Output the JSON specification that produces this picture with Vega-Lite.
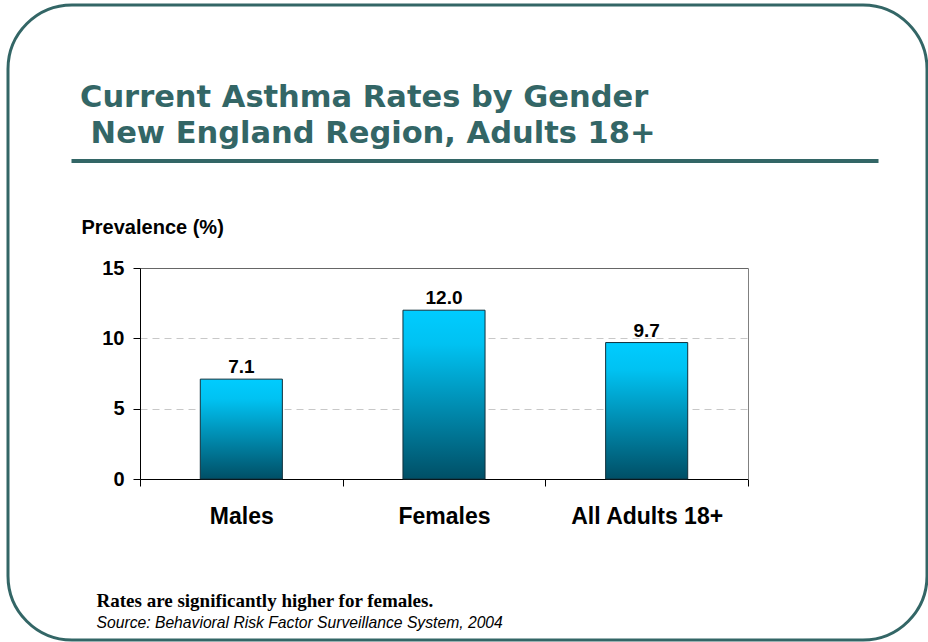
{
  "$schema": "https://vega.github.io/schema/vega-lite/v6.json",
  "width": 919,
  "height": 635,
  "autosize": {"type": "none"},
  "padding": {"left": 8, "top": 5, "right": 1, "bottom": 2},
  "background": "white",
  "title": {
    "text": ["Current Asthma Rates by Gender", "\u200b\u00a0New England Region, Adults 18+"],
    "anchor": "start",
    "frame": "group",
    "font": "DejaVu Sans",
    "fontSize": 30.5,
    "fontWeight": "bold",
    "color": "#336666",
    "lineHeight": 36,
    "offset": 0,
    "dx": 72,
    "dy": 144
  },
  "config": {
    "view": {"stroke": "#336666", "strokeWidth": 3, "cornerRadius": 64, "fill": "white"},
    "axis": {
      "labelFont": "Liberation Sans",
      "labelFontWeight": "bold",
      "labelColor": "#000000",
      "titleFont": "Liberation Sans",
      "titleFontWeight": "bold",
      "titleColor": "#000000",
      "domainColor": "#000000",
      "tickColor": "#000000"
    }
  },
  "data": {
    "values": [
      {"group": "Males", "prevalence": 7.1},
      {"group": "Females", "prevalence": 12.0},
      {"group": "All Adults 18+", "prevalence": 9.7}
    ]
  },
  "layer": [
    {
      "mark": {
        "type": "bar",
        "width": {"band": 0.405},
        "fill": {
          "gradient": "linear",
          "x1": 0, "y1": 0, "x2": 0, "y2": 1,
          "stops": [
            {"offset": 0, "color": "#00CCFF"},
            {"offset": 0.2, "color": "#00C2F2"},
            {"offset": 1, "color": "#004F66"}
          ]
        },
        "stroke": "#10303C",
        "strokeWidth": 1
      },
      "encoding": {
        "x": {
          "field": "group",
          "type": "nominal",
          "sort": null,
          "scale": {"range": [132, 740], "paddingInner": 0, "paddingOuter": 0},
          "axis": {
            "orient": "bottom",
            "offset": -161,
            "tickBand": "extent",
            "tickSize": 7,
            "labelAngle": 0,
            "labelFontSize": 23,
            "labelBaseline": "alphabetic",
            "labelPadding": 37,
            "grid": false,
            "title": "Rates are significantly higher for females.",
            "titleFont": "Liberation Serif",
            "titleFontSize": 19,
            "titleAngle": 0,
            "titleAlign": "left",
            "titleBaseline": "alphabetic",
            "titleX": 88,
            "titleY": 127
          }
        },
        "y": {
          "field": "prevalence",
          "type": "quantitative",
          "scale": {"domain": [0, 15], "range": [474, 263], "nice": false, "zero": true},
          "axis": {
            "orient": "left",
            "offset": -132,
            "values": [0, 5, 10, 15],
            "tickSize": 7,
            "labelFontSize": 20,
            "labelPadding": 9,
            "grid": true,
            "gridColor": "#C8C8C8",
            "gridDash": [7, 5],
            "title": "Prevalence (%)",
            "titleFontSize": 20,
            "titleAngle": 0,
            "titleAlign": "left",
            "titleBaseline": "alphabetic",
            "titleX": -59,
            "titleY": 228
          }
        }
      }
    },
    {
      "mark": {
        "type": "text",
        "font": "Liberation Sans",
        "fontWeight": "bold",
        "fontSize": 19,
        "baseline": "alphabetic",
        "dy": -6,
        "color": "#000000"
      },
      "encoding": {
        "x": {
          "field": "group",
          "type": "nominal",
          "sort": null,
          "scale": {"range": [132, 740], "paddingInner": 0, "paddingOuter": 0},
          "axis": {
            "orient": "top",
            "offset": -263,
            "domainColor": "#666666",
            "ticks": false,
            "labels": false,
            "grid": false,
            "title": null
          }
        },
        "y": {
          "field": "prevalence",
          "type": "quantitative",
          "axis": {
            "orient": "right",
            "offset": -179,
            "domainColor": "#808080",
            "ticks": false,
            "labels": false,
            "grid": false,
            "title": "Source: Behavioral Risk Factor Surveillance System, 2004",
            "titleFont": "Liberation Sans",
            "titleFontStyle": "italic",
            "titleFontWeight": "normal",
            "titleFontSize": 15.7,
            "titleAngle": 0,
            "titleAlign": "left",
            "titleBaseline": "alphabetic",
            "titleX": -652,
            "titleY": 622
          }
        },
        "text": {"field": "prevalence", "type": "quantitative", "format": ".1f"}
      }
    },
    {
      "mark": {"type": "point", "opacity": 0},
      "encoding": {
        "x": {
          "field": "group",
          "type": "nominal",
          "sort": null,
          "scale": {"type": "point", "range": [63, 870]},
          "axis": {
            "orient": "top",
            "offset": -155.5,
            "domainColor": "#336666",
            "domainWidth": 4,
            "domainCap": "butt",
            "ticks": false,
            "labels": false,
            "grid": false,
            "title": null
          }
        }
      }
    }
  ],
  "resolve": {
    "scale": {"x": "independent"},
    "axis": {"x": "independent", "y": "independent"}
  }
}
